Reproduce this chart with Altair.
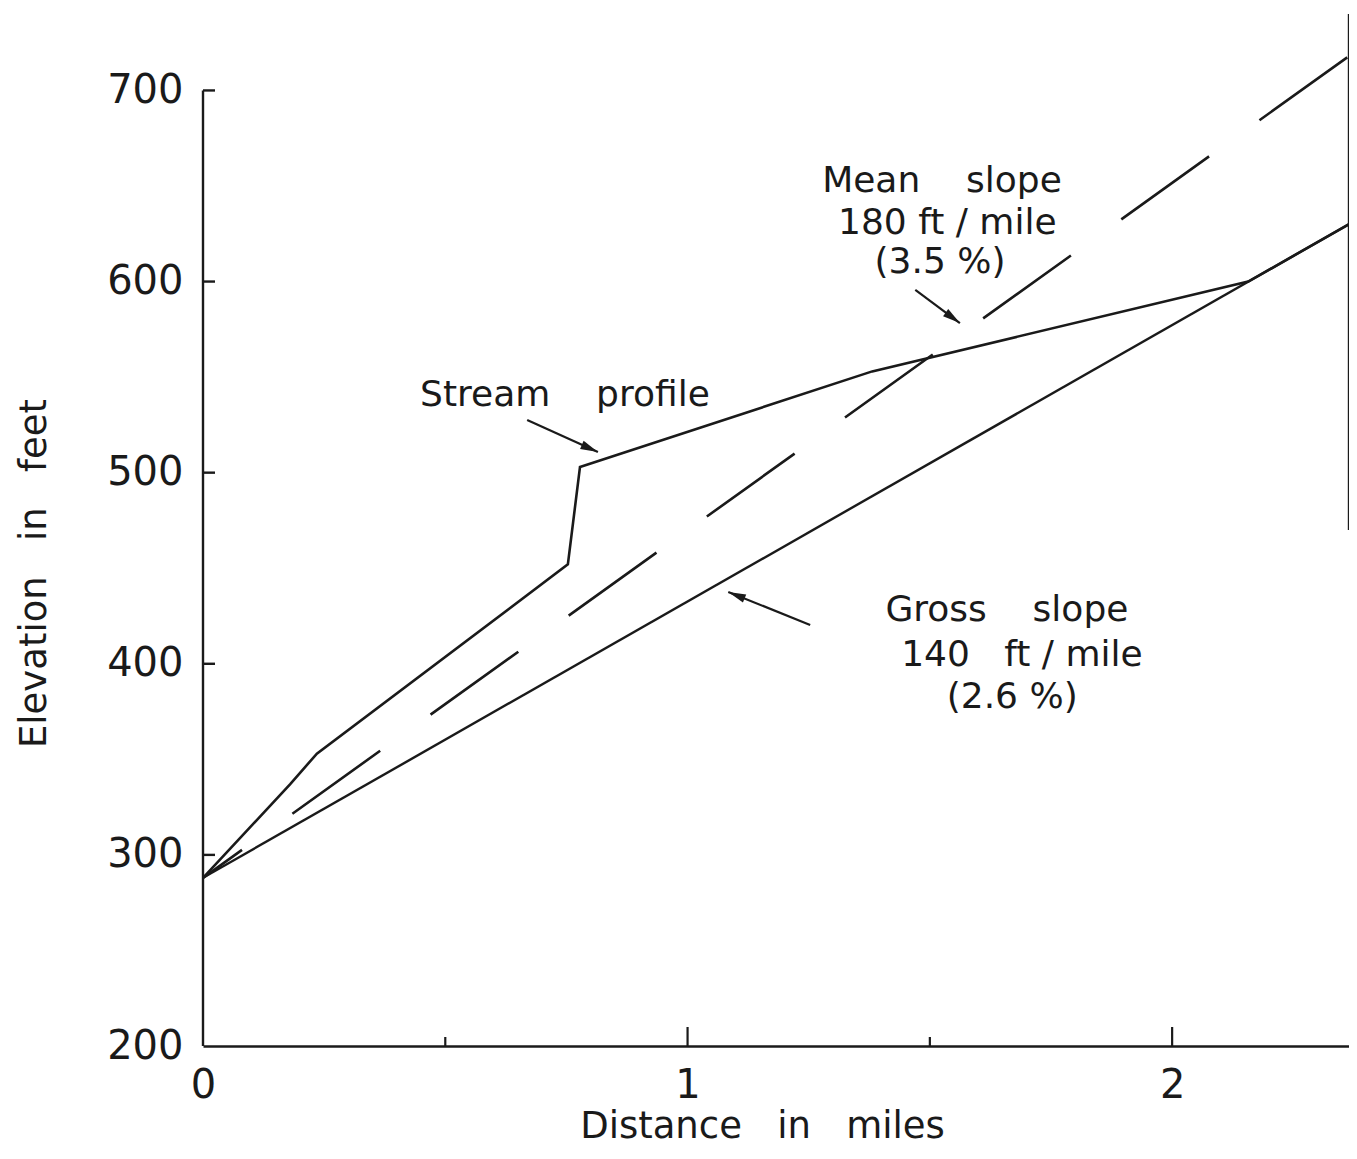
import altair as alt
import pandas as pd

# ---------------- data ----------------
# Stream profile: distance (miles) vs elevation (feet)
stream_dist = [0.0, 0.18, 0.235, 0.753, 0.778, 1.381, 2.157, 2.365]
stream_elev = [288, 337, 353, 452, 503, 553, 600, 630]

# Gross slope line (140 ft/mile)
gross_dist = [0.0, 2.365]
gross_elev = [288, 630]

# Mean slope line (180 ft/mile)
mean_dist = [0.0, 2.365]
mean_elev = [288, 718]

# axis values
x_label_values = [0, 1, 2]
x_major_ticks = [1, 2]
x_minor_ticks = [0.5, 1.5]
y_label_values = [200, 300, 400, 500, 600, 700]
y_tick_values = [300, 400, 500, 600, 700]
y_axis_line = [200, 700]
right_frame = [470, 740]

NB = "\u00a0"
# annotations
left_text = ["Stream" + NB * 4 + "profile"]
left_x = [0.448]
left_y = [540.7]

center_text = ["Mean" + NB * 4 + "slope", "180 ft / mile", "(3.5 %)",
               "Gross" + NB * 4 + "slope", "140" + NB * 3 + "ft / mile", "(2.6 %)"]
center_x = [1.525, 1.536, 1.521, 1.659, 1.690, 1.670]
center_y = [652.6, 630.7, 610.3, 428.2, 404.7, 382.7]

arrow_tail_x = [0.669, 1.470, 1.253]
arrow_tail_y = [527.6, 595.6, 420.3]
arrow_tip_x = [0.815, 1.562, 1.084]
arrow_tip_y = [510.8, 578.3, 437.6]
arrow_angle = [114, 126, 292]

# ---------------- style ----------------
W, H = 1146, 1032
FONT = "DejaVu Sans"
INK = "#1a1a1a"
FS_TICK = 40
FS_TITLE = 37
FS_NOTE = 36

xscale = alt.Scale(domain=[0, 2.365], nice=False, zero=False)
yscale = alt.Scale(domain=[200, 740], nice=False, zero=False)

xaxis = alt.Axis(values=x_label_values, format="d", ticks=False, grid=False,
                 domain=True, domainColor=INK, domainWidth=2.4,
                 labelFont=FONT, labelFontSize=FS_TICK, labelColor=INK,
                 labelPadding=19, labelFlush=False, labelOverlap=False,
                 labelBound=False,
                 title="Distance" + NB * 3 + "in" + NB * 3 + "miles",
                 titleFont=FONT, titleFontSize=FS_TITLE, titleFontWeight="normal",
                 titleColor=INK, titleX=559, titleY=91,
                 titleAlign="center", titleBaseline="alphabetic")
yaxis = alt.Axis(values=y_label_values, format="d", ticks=False, grid=False,
                 domain=False,
                 labelFont=FONT, labelFontSize=FS_TICK, labelColor=INK,
                 labelPadding=20, labelOverlap=False, labelFlush=False,
                 labelBound=False,
                 title="Elevation" + NB * 3 + "in" + NB * 3 + "feet",
                 titleFont=FONT, titleFontSize=FS_TITLE, titleFontWeight="normal",
                 titleColor=INK, titleX=-158, titleY=559, titleAngle=270,
                 titleAlign="center", titleBaseline="alphabetic")

X = alt.X("dist:Q", scale=xscale, axis=xaxis)
Y = alt.Y("elev:Q", scale=yscale, axis=yaxis)

stream_df = pd.DataFrame({"dist": stream_dist, "elev": stream_elev})
gross_df = pd.DataFrame({"dist": gross_dist, "elev": gross_elev})
mean_df = pd.DataFrame({"dist": mean_dist, "elev": mean_elev})

stream = alt.Chart(stream_df).mark_line(color=INK, strokeWidth=2.6, clip=True).encode(
    x=X, y=Y, order=alt.Order("dist:Q"))
gross = alt.Chart(gross_df).mark_line(color=INK, strokeWidth=2.4, clip=True).encode(x=X, y=Y)
mean = alt.Chart(mean_df).mark_line(color=INK, strokeWidth=2.6, clip=True,
                                    strokeDash=[108, 62], strokeDashOffset=60).encode(x=X, y=Y)

# axis line (y) and right frame line
yline = alt.Chart(pd.DataFrame({"elev": [y_axis_line[0]], "elev2": [y_axis_line[1]]})).mark_rule(
    color=INK, strokeWidth=2.4).encode(x=alt.value(0), y=Y, y2="elev2:Q")
rframe = alt.Chart(pd.DataFrame({"elev": [right_frame[0]], "elev2": [right_frame[1]]})).mark_rule(
    color=INK, strokeWidth=2.4).encode(x=alt.value(W), y=Y, y2="elev2:Q")

# inward ticks
yticks = alt.Chart(pd.DataFrame({"elev": y_tick_values})).mark_rule(
    color=INK, strokeWidth=2.4).encode(x=alt.value(0), x2=alt.value(12), y=Y)
xmajor = alt.Chart(pd.DataFrame({"dist": x_major_ticks})).mark_rule(
    color=INK, strokeWidth=2.2).encode(x=X, y=alt.value(H), y2=alt.value(H - 19))
xminor = alt.Chart(pd.DataFrame({"dist": x_minor_ticks})).mark_rule(
    color=INK, strokeWidth=2.2).encode(x=X, y=alt.value(H), y2=alt.value(H - 9))

# annotation texts
left_df = pd.DataFrame({"dist": left_x, "elev": left_y, "label": left_text})
center_df = pd.DataFrame({"dist": center_x, "elev": center_y, "label": center_text})
txt_left = alt.Chart(left_df).mark_text(align="left", baseline="middle", font=FONT,
                                        fontSize=FS_NOTE, color=INK).encode(x=X, y=Y, text="label:N")
txt_center = alt.Chart(center_df).mark_text(align="center", baseline="middle", font=FONT,
                                            fontSize=FS_NOTE, color=INK).encode(x=X, y=Y, text="label:N")

# arrows
arrow_df = pd.DataFrame({"dist": arrow_tail_x, "elev": arrow_tail_y,
                         "dist2": arrow_tip_x, "elev2": arrow_tip_y, "angle": arrow_angle})
shafts = alt.Chart(arrow_df).mark_rule(color=INK, strokeWidth=2.2).encode(
    x=X, y=Y, x2="dist2:Q", y2="elev2:Q")
heads = alt.Chart(arrow_df).mark_point(
    shape="M0,0L0.55,2.2L-0.55,2.2Z", filled=True, color=INK, size=256, opacity=1).encode(
    x=alt.X("dist2:Q", scale=xscale, axis=xaxis), y=alt.Y("elev2:Q", scale=yscale, axis=yaxis),
    angle=alt.Angle("angle:Q", scale=None))

chart = alt.layer(
    stream, gross, mean, yline, rframe, yticks, xmajor, xminor,
    txt_left, txt_center, shafts, heads
).properties(
    width=W, height=H,
    autosize=alt.AutoSizeParams(type="none"),
    padding={"left": 195, "top": 6, "right": 0, "bottom": 99},
    background="white",
).configure_view(stroke=None)

chart.save("out.html", embed_options={"renderer": "svg", "actions": False})
